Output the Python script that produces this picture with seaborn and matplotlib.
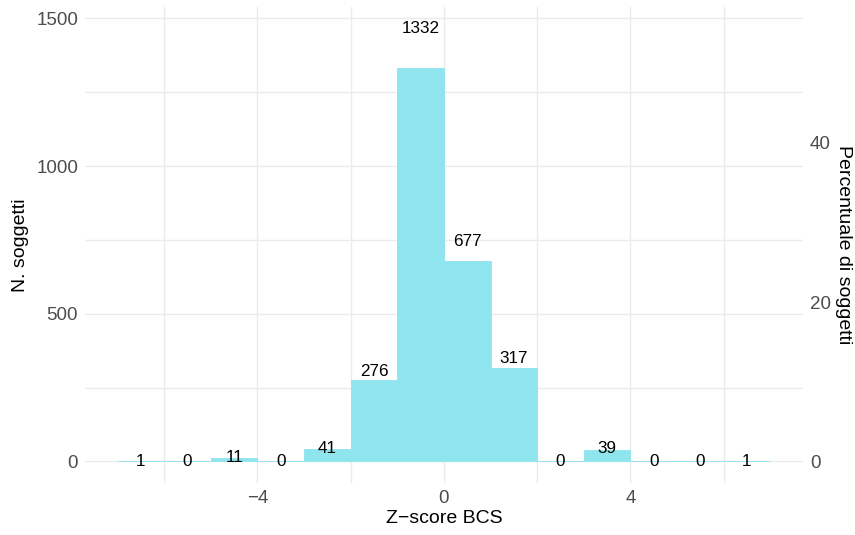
import numpy as np
import matplotlib
matplotlib.use("Agg")
import matplotlib.pyplot as plt
import seaborn as sns

bin_centers = [-6.5, -5.5, -4.5, -3.5, -2.5, -1.5, -0.5, 0.5, 1.5, 2.5, 3.5, 4.5, 5.5, 6.5]
counts = [1, 0, 11, 0, 41, 276, 1332, 677, 317, 0, 39, 0, 0, 1]
bin_edges = list(range(-7, 8))
x_ticks = [-4, 0, 4]
y_ticks = [0, 500, 1000, 1500]
pct_ticks = [0, 20, 40]

sns.set_theme(style="white")
plt.rcParams['font.family'] = ['Liberation Sans', 'DejaVu Sans']

total = sum(counts)
fill = "#8EE5EE"
grid_c = "#EBEBEB"
tick_c = "#4D4D4D"

fig = plt.figure(figsize=(8.55, 5.35), dpi=100)
ax = fig.add_axes([0.0994, 0.097, 0.8396, 0.890])

sns.histplot(x=bin_centers, weights=counts, bins=bin_edges, color=fill,
             alpha=1, edgecolor=fill, linewidth=0.6, ax=ax, zorder=2)

for xc, c in zip(bin_centers, counts):
    ax.text(xc, c * 1.1, str(c), ha="center", va="center", fontsize=12.3,
            color="black", zorder=3)

ax.set_xlim(-7.7, 7.7)
ax.set_ylim(-73.3, 1538.5)
ax.set_xticks(x_ticks)
ax.set_xticklabels(["\u2212" + str(abs(t)) if t < 0 else str(t) for t in x_ticks])
ax.set_yticks(y_ticks)
ax.set_xticks([-6, -2, 2, 6], minor=True)
ax.set_yticks([250, 750, 1250], minor=True)
ax.grid(True, which="both", color=grid_c, linewidth=1.0, zorder=0)
ax.set_axisbelow(True)
for s in ax.spines.values():
    s.set_visible(False)
ax.tick_params(axis="both", which="both", length=0, labelsize=13.5, labelcolor=tick_c)
ax.tick_params(axis="x", pad=5)
ax.tick_params(axis="y", pad=5)
ax.set_xlabel("Z\u2212score BCS", fontsize=14, color="black", labelpad=2)
ax.set_ylabel("N. soggetti", fontsize=14, color="black", labelpad=5)

sec = ax.secondary_yaxis("right", functions=(lambda y: y / total * 100,
                                              lambda p: p * total / 100))
sec.set_yticks(pct_ticks)
for s in sec.spines.values():
    s.set_visible(False)
sec.tick_params(axis="y", length=0, labelsize=13.5, labelcolor=tick_c, pad=5)
fig.text(843 / 855, 1 - 245 / 535, "Percentuale di soggetti", fontsize=14,
         color="black", rotation=270, ha="center", va="center")

fig.savefig("out.png", dpi=100, facecolor="white")
